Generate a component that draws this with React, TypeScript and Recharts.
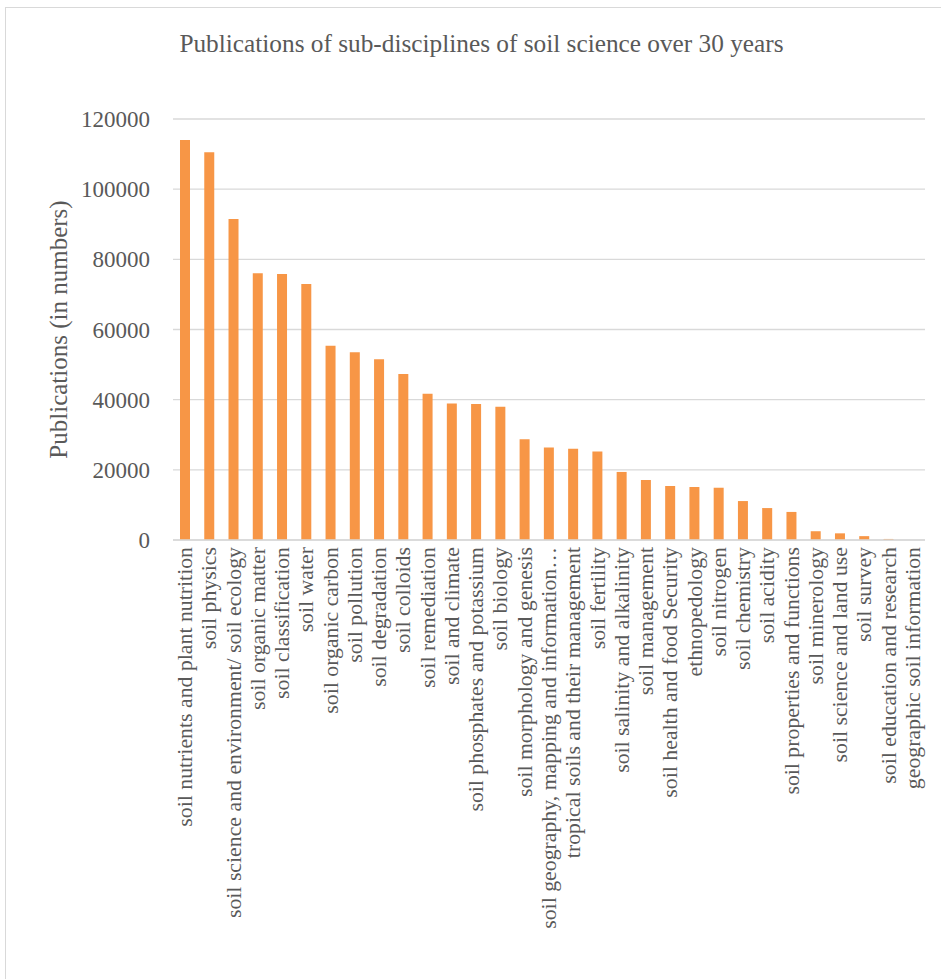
import { BarChart, Bar, XAxis, YAxis, CartesianGrid } from 'recharts'

const categories = [
  'soil nutrients and plant nutrition',
  'soil physics',
  'soil science and environment/ soil ecology',
  'soil organic matter',
  'soil classification',
  'soil water',
  'soil organic carbon',
  'soil pollution',
  'soil degradation',
  'soil colloids',
  'soil remediation',
  'soil and climate',
  'soil phosphates and potassium',
  'soil biology',
  'soil morphology and genesis',
  'soil geography, mapping and information\u2026',
  'tropical soils and their management',
  'soil fertility',
  'soil salinity and alkalinity',
  'soil management',
  'soil health and food Security',
  'ethnopedology',
  'soil nitrogen',
  'soil chemistry',
  'soil acidity',
  'soil properties and functions',
  'soil minerology',
  'soil science and land use',
  'soil survey',
  'soil education and research',
  'geographic soil information',
]

const publications = [
  114000, 110500, 91500, 76000, 75800, 73000, 55400, 53500, 51500, 47300, 41700,
  38900, 38800, 38000, 28700, 26400, 26000, 25200, 19400, 17100, 15400, 15100,
  14900, 11100, 9100, 8000, 2500, 1900, 1100, 300, 0,
]

const yTicks = [0, 20000, 40000, 60000, 80000, 100000, 120000]

const data = categories.map((name, i) => ({ name, publications: publications[i] }))

const FONT = '"Liberation Serif", "Times New Roman", serif'
const TEXT = '#595959'
const GRID = '#d9d9d9'

// vertical category labels, read bottom-to-top, hanging below the axis
function CategoryTick({ x, y, payload }: any) {
  return (
    <text
      transform={`translate(${x + 7},${y + 7}) rotate(-90)`}
      textAnchor="end"
      fill={TEXT}
      fontSize={21.8}
      fontFamily={FONT}
    >
      {payload.value}
    </text>
  )
}

function AxisTitle({ viewBox }: any) {
  const cx = (viewBox?.x ?? 73) - 6
  const cy = (viewBox?.y ?? 119) + (viewBox?.height ?? 421) / 2
  return (
    <text
      transform={`translate(${cx},${cy}) rotate(-90)`}
      textAnchor="middle"
      fill={TEXT}
      fontSize={25}
      fontFamily={FONT}
    >
      Publications (in numbers)
    </text>
  )
}

export default function App() {
  return (
    <div
      style={{
        position: 'absolute',
        left: 0,
        top: 0,
        width: 941,
        height: 979,
        overflow: 'hidden',
        background: '#fff',
      }}
    >
      <div
        style={{
          position: 'absolute',
          left: 5,
          top: 7,
          width: 1000,
          height: 1000,
          border: `1.5px solid ${GRID}`,
        }}
      />
      <div
        style={{
          position: 'absolute',
          left: 0,
          top: 31,
          width: 963,
          textAlign: 'center',
          fontFamily: FONT,
          fontSize: 25.3,
          lineHeight: '25px',
          color: TEXT,
        }}
      >
        Publications of sub-disciplines of soil science over 30 years
      </div>
      <div style={{ position: 'absolute', left: 0, top: 0 }}>
        <BarChart
          width={941}
          height={979}
          data={data}
          margin={{ top: 119, right: 16, bottom: 39, left: 73 }}
          barSize={10}
        >
          <CartesianGrid vertical={false} stroke={GRID} strokeWidth={1.3} />
          <XAxis
            dataKey="name"
            interval={0}
            height={400}
            tickLine={false}
            tickSize={0}
            tickMargin={0}
            axisLine={{ stroke: GRID, strokeWidth: 1.3 }}
            tick={<CategoryTick />}
          />
          <YAxis
            width={100}
            domain={[0, 120000]}
            ticks={yTicks}
            interval={0}
            axisLine={false}
            tickLine={false}
            tickSize={0}
            tickMargin={23}
            tick={{ fill: TEXT, fontSize: 23, fontFamily: FONT }}
            label={<AxisTitle />}
          />
          <Bar dataKey="publications" fill="#F79646" isAnimationActive={false} />
        </BarChart>
      </div>
    </div>
  )
}
